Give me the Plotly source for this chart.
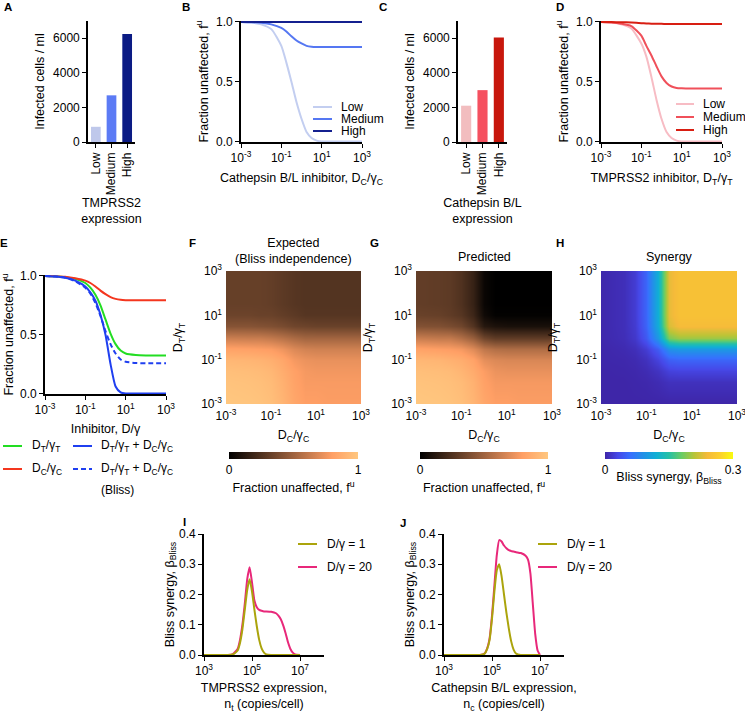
import plotly.graph_objects as go

W, H = 745, 715
FONT = "Liberation Sans, Arial, sans-serif"

# ---------------- data ----------------
levels = ["Low", "Medium", "High"]
tmprss2_infected = [880, 2700, 6250]
cathepsin_infected = [2100, 3000, 6050]

# inhibitor dose, log10 exponent (panels B, D, E)
dose_exp = [-3, -2.5, -2, -1.5, -1, -0.75, -0.5, -0.25, 0, 0.25, 0.5, 0.75, 1, 1.5, 2, 3]
b_low = [1.0, 0.995, 0.98, 0.94, 0.80, 0.66, 0.50, 0.33, 0.19, 0.08, 0.03, 0.008, 0.0, 0.0, 0.0, 0.0]
b_medium = [1.0, 0.998, 0.993, 0.98, 0.95, 0.92, 0.88, 0.845, 0.82, 0.80, 0.792, 0.79, 0.79, 0.79, 0.79, 0.79]
b_high = [1.0, 1.0, 1.0, 1.0, 1.0, 1.0, 1.0, 1.0, 1.0, 1.0, 1.0, 1.0, 1.0, 1.0, 1.0, 1.0]
d_low = [1.0, 0.995, 0.98, 0.945, 0.82, 0.71, 0.54, 0.35, 0.19, 0.08, 0.03, 0.008, 0.0, 0.0, 0.0, 0.0]
d_medium = [1.0, 0.995, 0.985, 0.965, 0.885, 0.80, 0.72, 0.63, 0.545, 0.49, 0.46, 0.448, 0.445, 0.443, 0.443, 0.443]
d_high = [1.0, 0.999, 0.998, 0.995, 0.99, 0.988, 0.986, 0.985, 0.984, 0.983, 0.983, 0.983, 0.983, 0.983, 0.983, 0.983]
e_tmprss2 = [1.0, 0.997, 0.99, 0.975, 0.94, 0.90, 0.84, 0.75, 0.63, 0.51, 0.42, 0.365, 0.34, 0.327, 0.324, 0.324]
e_cathepsin = [1.0, 0.998, 0.993, 0.98, 0.96, 0.94, 0.91, 0.875, 0.845, 0.82, 0.805, 0.797, 0.794, 0.793, 0.793, 0.793]
e_combined = [1.0, 0.995, 0.985, 0.96, 0.91, 0.86, 0.79, 0.67, 0.50, 0.25, 0.06, 0.01, 0.0, 0.0, 0.0, 0.0]
e_bliss = [1.0, 0.995, 0.985, 0.955, 0.90, 0.85, 0.77, 0.66, 0.53, 0.42, 0.34, 0.29, 0.27, 0.26, 0.257, 0.257]

# heatmap grid, log10 exponent of D/gamma (rows: D_T, cols: D_C)
grid_exp = [-3, -2, -1.5, -1, -0.5, 0, 0.5, 1, 1.5, 2, 3]
expected_fu = [
    [1.00, 0.99, 0.98, 0.96, 0.91, 0.84, 0.80, 0.80, 0.79, 0.79, 0.79],
    [0.98, 0.97, 0.96, 0.94, 0.89, 0.82, 0.78, 0.78, 0.78, 0.78, 0.78],
    [0.96, 0.95, 0.94, 0.92, 0.87, 0.81, 0.77, 0.76, 0.76, 0.76, 0.76],
    [0.92, 0.91, 0.90, 0.88, 0.84, 0.77, 0.74, 0.73, 0.73, 0.73, 0.73],
    [0.82, 0.81, 0.80, 0.79, 0.75, 0.69, 0.66, 0.65, 0.65, 0.65, 0.65],
    [0.64, 0.63, 0.63, 0.61, 0.58, 0.54, 0.51, 0.51, 0.51, 0.51, 0.51],
    [0.42, 0.42, 0.41, 0.40, 0.38, 0.35, 0.34, 0.33, 0.33, 0.33, 0.33],
    [0.34, 0.34, 0.33, 0.33, 0.31, 0.29, 0.27, 0.27, 0.27, 0.27, 0.27],
    [0.32, 0.32, 0.32, 0.31, 0.29, 0.27, 0.26, 0.26, 0.26, 0.26, 0.26],
    [0.32, 0.32, 0.32, 0.31, 0.29, 0.27, 0.26, 0.26, 0.26, 0.26, 0.26],
    [0.32, 0.32, 0.32, 0.31, 0.29, 0.27, 0.26, 0.26, 0.26, 0.26, 0.26],
]
predicted_fu = [
    [1.00, 0.99, 0.98, 0.96, 0.91, 0.84, 0.80, 0.80, 0.79, 0.79, 0.79],
    [0.98, 0.97, 0.96, 0.94, 0.89, 0.81, 0.77, 0.77, 0.77, 0.77, 0.77],
    [0.96, 0.95, 0.94, 0.91, 0.86, 0.79, 0.74, 0.73, 0.73, 0.73, 0.73],
    [0.92, 0.91, 0.89, 0.87, 0.82, 0.72, 0.69, 0.68, 0.68, 0.68, 0.68],
    [0.82, 0.80, 0.79, 0.77, 0.70, 0.60, 0.56, 0.55, 0.55, 0.55, 0.55],
    [0.63, 0.61, 0.61, 0.56, 0.48, 0.35, 0.30, 0.30, 0.30, 0.30, 0.30],
    [0.41, 0.40, 0.38, 0.35, 0.26, 0.12, 0.09, 0.08, 0.08, 0.08, 0.08],
    [0.33, 0.32, 0.30, 0.27, 0.19, 0.05, 0.01, 0.01, 0.01, 0.01, 0.01],
    [0.31, 0.30, 0.29, 0.25, 0.17, 0.03, 0.00, 0.00, 0.00, 0.00, 0.00],
    [0.31, 0.30, 0.29, 0.25, 0.17, 0.03, 0.00, 0.00, 0.00, 0.00, 0.00],
    [0.31, 0.30, 0.29, 0.25, 0.17, 0.03, 0.00, 0.00, 0.00, 0.00, 0.00],
]
synergy = [
    [0.000, 0.000, 0.000, 0.000, 0.000, 0.000, 0.000, 0.000, 0.000, 0.000, 0.000],
    [0.000, 0.000, 0.001, 0.002, 0.005, 0.010, 0.010, 0.010, 0.010, 0.010, 0.010],
    [0.000, 0.001, 0.002, 0.005, 0.012, 0.024, 0.026, 0.026, 0.026, 0.026, 0.026],
    [0.001, 0.002, 0.004, 0.010, 0.025, 0.047, 0.051, 0.051, 0.051, 0.051, 0.051],
    [0.001, 0.004, 0.008, 0.020, 0.046, 0.090, 0.097, 0.097, 0.097, 0.097, 0.097],
    [0.002, 0.007, 0.016, 0.042, 0.097, 0.186, 0.200, 0.200, 0.200, 0.200, 0.200],
    [0.002, 0.008, 0.019, 0.050, 0.117, 0.226, 0.243, 0.243, 0.243, 0.243, 0.243],
    [0.002, 0.008, 0.020, 0.052, 0.120, 0.233, 0.250, 0.250, 0.250, 0.250, 0.250],
    [0.002, 0.008, 0.020, 0.052, 0.120, 0.233, 0.250, 0.250, 0.250, 0.250, 0.250],
    [0.002, 0.008, 0.020, 0.052, 0.120, 0.233, 0.250, 0.250, 0.250, 0.250, 0.250],
    [0.002, 0.008, 0.020, 0.052, 0.120, 0.233, 0.250, 0.250, 0.250, 0.250, 0.250],
]

# expression level, log10 copies/cell (panels I, J)
nt_exp = [3, 4, 4.2, 4.4, 4.5, 4.6, 4.7, 4.8, 4.9, 5.0, 5.1, 5.2, 5.3, 5.4, 5.5, 5.6, 5.8, 6.0, 6.1, 6.2, 6.3, 6.4, 6.5, 6.6, 6.7, 6.8, 7.0]
i_dose1 = [0, 0, 0.002, 0.015, 0.04, 0.085, 0.15, 0.215, 0.25, 0.21, 0.15, 0.095, 0.05, 0.022, 0.008, 0.002, 0, 0, 0, 0, 0, 0, 0, 0, 0, 0, 0]
i_dose20 = [0, 0, 0.003, 0.02, 0.05, 0.10, 0.17, 0.25, 0.29, 0.24, 0.18, 0.158, 0.149, 0.146, 0.144, 0.144, 0.143, 0.138, 0.13, 0.118, 0.098, 0.072, 0.042, 0.02, 0.008, 0.002, 0]
nc_exp = [3, 4, 4.5, 4.7, 4.8, 4.9, 5.0, 5.1, 5.2, 5.3, 5.4, 5.5, 5.6, 5.7, 5.8, 5.9, 6.0, 6.2, 6.4, 6.5, 6.6, 6.7, 6.8, 6.9, 7.0]
j_dose1 = [0, 0, 0, 0.005, 0.02, 0.05, 0.12, 0.21, 0.28, 0.30, 0.26, 0.20, 0.14, 0.088, 0.045, 0.018, 0.005, 0, 0, 0, 0, 0, 0, 0, 0]
j_dose20 = [0, 0, 0, 0.006, 0.022, 0.055, 0.13, 0.23, 0.33, 0.38, 0.375, 0.362, 0.353, 0.347, 0.344, 0.342, 0.34, 0.337, 0.328, 0.315, 0.27, 0.17, 0.07, 0.015, 0]

blue_shades = ["#BFC8EB", "#5C7BF5", "#0B1B84"]
red_shades = ["#F2BDBF", "#F5505F", "#C8170C"]
blue_lines = ["#C3CEF0", "#5577F2", "#14208F"]
red_lines = ["#F7BCC4", "#F0505A", "#D81E12"]
copper = [[0.0, "rgb(0,0,0)"], [0.8, "rgb(255,159,101)"], [1.0, "rgb(255,199,127)"]]
parula = [[0.0, "rgb(62,38,168)"], [0.1, "rgb(70,72,232)"], [0.2, "rgb(55,112,254)"],
          [0.3, "rgb(33,145,231)"], [0.4, "rgb(16,175,213)"], [0.5, "rgb(38,192,165)"],
          [0.6, "rgb(106,204,100)"], [0.7, "rgb(185,196,55)"], [0.8, "rgb(245,186,58)"],
          [0.9, "rgb(252,208,46)"], [1.0, "rgb(249,251,14)"]]


def px_x(a, b):
    return [a / W, b / W]


def px_y(top, bottom):
    return [1 - bottom / H, 1 - top / H]


def pow10(e):
    return f"10<sup>{e}</sup>"


def sub(a, b):
    return f"{a}<sub>{b}</sub>"


DT = sub("D", "T") + "/" + sub("γ", "T")
DC = sub("D", "C") + "/" + sub("γ", "C")
FU = "Fraction unaffected, f<sup>u</sup>"
BETA = "Bliss synergy, " + sub("β", "Bliss")

axis_base = dict(showline=True, linecolor="black", linewidth=1.6, ticks="outside",
                 ticklen=4, tickwidth=1.4, tickcolor="black", showgrid=False,
                 zeroline=False, tickfont=dict(size=12))


def title(text, standoff=None):
    t = dict(text=text, font=dict(size=12.5))
    if standoff is not None:
        t["standoff"] = standoff
    return t


fig = go.Figure()

# A / C bars
for k, vals, cols in [(1, tmprss2_infected, blue_shades), (3, cathepsin_infected, red_shades)]:
    fig.add_trace(go.Bar(x=levels, y=vals, marker=dict(color=cols, line=dict(width=0)),
                         width=0.62, xaxis=f"x{k}", yaxis=f"y{k}"))

# B / D line panels
dose = [10 ** e for e in dose_exp]
for k, series, cols in [(2, [b_low, b_medium, b_high], blue_lines),
                        (4, [d_low, d_medium, d_high], red_lines)]:
    for ys, c in zip(series, cols):
        fig.add_trace(go.Scatter(x=dose, y=ys, mode="lines", line=dict(color=c, width=2, shape="spline", smoothing=0.6),
                                 xaxis=f"x{k}", yaxis=f"y{k}"))

# E
e_names = [DT, DC, DT + " + " + DC, DT + " + " + DC]
e_colors = ["#22DD22", "#F4361E", "#1F3FF0", "#1F3FF0"]
e_dash = ["solid", "solid", "solid", "5px,3px"]
for ys, c, d in zip([e_tmprss2, e_cathepsin, e_combined, e_bliss], e_colors, e_dash):
    fig.add_trace(go.Scatter(x=dose, y=ys, mode="lines", line=dict(color=c, width=2, dash=d, shape="spline", smoothing=0.6),
                             xaxis="x5", yaxis="y5"))

# F, G, H heatmaps
heat = [(6, expected_fu, copper, 1.0, (229, 358), ["0", "1"], FU),
        (7, predicted_fu, copper, 1.0, (420, 548), ["0", "1"], FU),
        (8, synergy, parula, 0.3, (605, 733), ["0", "0.3"], BETA)]
for k, z, cs, zmax, (c0, c1), tt, ctitle in heat:
    fig.add_trace(go.Heatmap(
        x=grid_exp, y=grid_exp, z=z, zsmooth="best", colorscale=cs, zmin=0, zmax=zmax,
        xaxis=f"x{k}", yaxis=f"y{k}",
        colorbar=dict(orientation="h", x=(c0 + c1) / 2 / W, xanchor="center", y=1 - 452 / H,
                      yanchor="top", ypad=0, xpad=0, lenmode="pixels", len=c1 - c0, thickness=7,
                      outlinewidth=0, tickvals=[0, zmax], ticktext=tt, ticks="",
                      tickfont=dict(size=12), title=dict(text=ctitle, side="bottom", font=dict(size=12.5)))))

# I, J
ij_names = ["D/γ = 1", "D/γ = 20"]
ij_colors = ["#ABA40C", "#E8287A"]
for k, xe, series in [(9, nt_exp, [i_dose1, i_dose20]), (10, nc_exp, [j_dose1, j_dose20])]:
    xs = [10 ** e for e in xe]
    for ys, c in zip(series[::-1], ij_colors[::-1]):
        fig.add_trace(go.Scatter(x=xs, y=ys, mode="lines", line=dict(color=c, width=2, shape="spline", smoothing=0.5),
                                 xaxis=f"x{k}", yaxis=f"y{k}"))

layout = dict(width=W, height=H, margin=dict(l=0, r=0, t=0, b=0, autoexpand=False), showlegend=False,
              paper_bgcolor="white", plot_bgcolor="white",
              font=dict(family=FONT, size=12, color="black"))

log_ticks = dict(type="log", range=[-3, 3], tickvals=[1e-3, 1e-1, 1e1, 1e3],
                 ticktext=[pow10(-3), pow10(-1), pow10(1), pow10(3)])
fu_ticks = dict(range=[-0.004, 1.008], tickvals=[0, 0.5, 1], ticktext=["0.0", "0.5", "1.0"])

# A, C
for k, dom, ttl in [(1, (88, 135), "TMPRSS2<br>expression"), (3, (458, 507), "Cathepsin B/L<br>expression")]:
    layout[f"xaxis{k}"] = dict(axis_base, domain=px_x(*dom), anchor=f"y{k}", type="category",
                               range=[-0.5, 2.5], tickangle=-90, title=title(ttl, 4))
    layout[f"yaxis{k}"] = dict(axis_base, domain=px_y(21, 142), anchor=f"x{k}", range=[0, 7000],
                               tickvals=[0, 2000, 4000, 6000], title=title("Infected cells / ml", 6))

# B, D, E
for k, dom_x, dom_y, ttl, so in [(2, (241, 362), (21, 142), "Cathepsin B/L inhibitor, " + DC, 9),
                                 (4, (601, 722), (21, 142), "TMPRSS2 inhibitor, " + DT, 9),
                                 (5, (45, 166), (275, 394), "Inhibitor, D/γ", 8)]:
    layout[f"xaxis{k}"] = dict(axis_base, **log_ticks, domain=px_x(*dom_x), anchor=f"y{k}", title=title(ttl, so))
    layout[f"yaxis{k}"] = dict(axis_base, **fu_ticks, domain=px_y(*dom_y), anchor=f"x{k}", title=title(FU, 5))

# F, G, H
for k, dom in [(6, (226, 361)), (7, (416, 552)), (8, (601, 737))]:
    hm_axis = dict(showline=False, showgrid=False, zeroline=False, ticks="", range=[-3, 3],
                   tickvals=[-3, -1, 1, 3], ticktext=[pow10(-3), pow10(-1), pow10(1), pow10(3)],
                   tickfont=dict(size=12), ticklabelstandoff=3, ticklabeloverflow="allow")
    layout[f"xaxis{k}"] = dict(hm_axis, domain=px_x(*dom), anchor=f"y{k}", title=title(DC, 8))
    layout[f"yaxis{k}"] = dict(hm_axis, domain=px_y(271, 404), anchor=f"x{k}", title=title(DT))

# I, J
for k, dom, ttl in [(9, (204, 324), "TMPRSS2 expression,<br>" + sub("n", "t") + " (copies/cell)"),
                    (10, (444, 564), "Cathepsin B/L expression,<br>" + sub("n", "c") + " (copies/cell)")]:
    layout[f"xaxis{k}"] = dict(axis_base, domain=px_x(*dom), anchor=f"y{k}", type="log", range=[3, 8],
                               tickvals=[1e3, 1e5, 1e7], ticktext=[pow10(3), pow10(5), pow10(7)], title=title(ttl, 6))
    layout[f"yaxis{k}"] = dict(axis_base, domain=px_y(534, 655), anchor=f"x{k}", range=[0, 0.4],
                               tickvals=[0, 0.1, 0.2, 0.3, 0.4], ticktext=["0.0", "0.1", "0.2", "0.3", "0.4"],
                               title=title(BETA, 2))

fig.update_layout(**layout)


def legend_item(name, color, x0, x1, xt, y, dash="solid"):
    yp = 1 - y / H
    fig.add_shape(type="line", xref="paper", yref="paper", x0=x0 / W, x1=x1 / W, y0=yp, y1=yp,
                  line=dict(color=color, width=2, dash=dash))
    fig.add_annotation(text=name, xref="paper", yref="paper", x=xt / W, y=yp, xanchor="left",
                       yanchor="middle", showarrow=False, align="left", font=dict(size=12))


for name, c, y in zip(levels, blue_lines, [107, 119, 131]):
    legend_item(name, c, 313, 332, 339, y)
for name, c, y in zip(levels, red_lines, [104, 117, 130]):
    legend_item(name, c, 676, 694, 701, y)
for name, c, y in zip(ij_names, ij_colors, [544, 567]):
    legend_item(name, c, 298, 317, 325, y)
    legend_item(name, c, 538, 557, 565, y)

# E legend, two columns
legend_item(e_names[0], e_colors[0], 3, 22, 30, 446)
legend_item(e_names[1], e_colors[1], 3, 22, 30, 469)
legend_item(e_names[2], e_colors[2], 73, 92, 99, 446)
legend_item(e_names[3], e_colors[3], 73, 92, 99, 469, "5px,3px")
fig.add_annotation(text="(Bliss)", xref="paper", yref="paper", x=99 / W, y=1 - 490 / H,
                   xanchor="left", yanchor="middle", showarrow=False, font=dict(size=12))

# heatmap titles
for text, xc, yb in [("Expected<br>(Bliss independence)", 293.5, 268), ("Predicted", 484, 266), ("Synergy", 669, 266)]:
    fig.add_annotation(text=text, xref="paper", yref="paper", x=xc / W, y=1 - yb / H,
                       xanchor="center", yanchor="bottom", showarrow=False, font=dict(size=12.5))

# panel letters
for letter, x, y in [("A", 8, 7), ("B", 186, 7), ("C", 383, 7), ("D", 560, 7), ("E", 4, 243),
                     ("F", 192, 243), ("G", 374, 243), ("H", 560, 243), ("I", 184, 522), ("J", 403, 523)]:
    fig.add_annotation(text=f"<b>{letter}</b>", xref="paper", yref="paper", x=x / W, y=1 - y / H,
                       xanchor="center", yanchor="middle", showarrow=False, font=dict(size=11.5))

fig.write_html("out.html", config={"displayModeBar": False},
               post_script="document.body.style.margin='0px';document.body.style.overflow='hidden';")
